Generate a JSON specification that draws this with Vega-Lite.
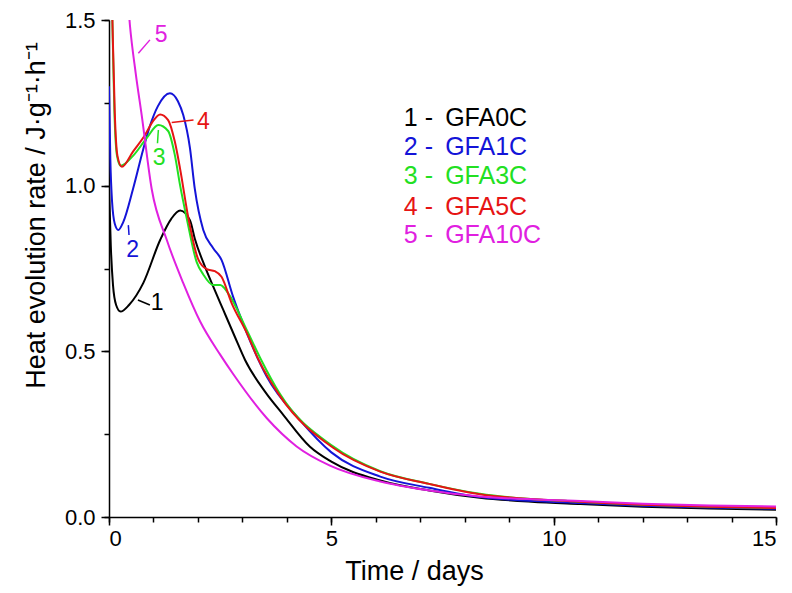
{
  "$schema": "https://vega.github.io/schema/vega-lite/v6.json",
  "width": 667,
  "height": 497,
  "autosize": {"type": "none"},
  "padding": {"left": 109, "top": 20, "right": 16, "bottom": 76},
  "background": "white",
  "config": {
    "view": {"stroke": null},
    "font": "Liberation Sans",
    "axis": {
      "grid": false,
      "domainColor": "black",
      "domainWidth": 1.5,
      "tickColor": "black",
      "tickWidth": 1.5,
      "labelColor": "black",
      "titleColor": "black",
      "labelFont": "Liberation Sans",
      "titleFont": "Liberation Sans",
      "labelFontSize": 22,
      "titleFontSize": 27,
      "titleFontWeight": "normal"
    }
  },
  "datasets": {
    "curves": [
      {"s": "1", "t": 0.0, "v": 1.0},
      {"s": "1", "t": 0.04, "v": 0.82},
      {"s": "1", "t": 0.09, "v": 0.7},
      {"s": "1", "t": 0.16, "v": 0.64},
      {"s": "1", "t": 0.26, "v": 0.62},
      {"s": "1", "t": 0.45, "v": 0.64},
      {"s": "1", "t": 0.77, "v": 0.706},
      {"s": "1", "t": 1.15, "v": 0.836},
      {"s": "1", "t": 1.4, "v": 0.9},
      {"s": "1", "t": 1.6, "v": 0.925},
      {"s": "1", "t": 1.82, "v": 0.896},
      {"s": "1", "t": 1.93, "v": 0.84},
      {"s": "1", "t": 2.16, "v": 0.755},
      {"s": "1", "t": 2.34, "v": 0.697},
      {"s": "1", "t": 2.57, "v": 0.625},
      {"s": "1", "t": 2.83, "v": 0.544},
      {"s": "1", "t": 3.06, "v": 0.474},
      {"s": "1", "t": 3.5, "v": 0.38},
      {"s": "1", "t": 3.91, "v": 0.31},
      {"s": "1", "t": 4.52, "v": 0.212},
      {"s": "1", "t": 5.0, "v": 0.167},
      {"s": "1", "t": 6.1, "v": 0.11},
      {"s": "1", "t": 7.2, "v": 0.08},
      {"s": "1", "t": 8.34, "v": 0.058},
      {"s": "1", "t": 9.5, "v": 0.046},
      {"s": "1", "t": 10.6, "v": 0.039},
      {"s": "1", "t": 12.0, "v": 0.031},
      {"s": "1", "t": 13.5, "v": 0.026},
      {"s": "1", "t": 15.0, "v": 0.022},
      {"s": "2", "t": 0.0, "v": 1.3},
      {"s": "2", "t": 0.03, "v": 1.08},
      {"s": "2", "t": 0.07, "v": 0.95},
      {"s": "2", "t": 0.13, "v": 0.885},
      {"s": "2", "t": 0.21, "v": 0.866},
      {"s": "2", "t": 0.32, "v": 0.89},
      {"s": "2", "t": 0.54, "v": 0.99},
      {"s": "2", "t": 0.77, "v": 1.11},
      {"s": "2", "t": 0.92, "v": 1.18},
      {"s": "2", "t": 1.1, "v": 1.24},
      {"s": "2", "t": 1.37, "v": 1.279},
      {"s": "2", "t": 1.55, "v": 1.255},
      {"s": "2", "t": 1.67, "v": 1.213},
      {"s": "2", "t": 1.82, "v": 1.114},
      {"s": "2", "t": 1.93, "v": 0.99},
      {"s": "2", "t": 2.12, "v": 0.866},
      {"s": "2", "t": 2.34, "v": 0.812},
      {"s": "2", "t": 2.53, "v": 0.776},
      {"s": "2", "t": 2.79, "v": 0.665},
      {"s": "2", "t": 3.1, "v": 0.555},
      {"s": "2", "t": 3.55, "v": 0.423},
      {"s": "2", "t": 4.29, "v": 0.293},
      {"s": "2", "t": 5.0, "v": 0.195},
      {"s": "2", "t": 6.1, "v": 0.122},
      {"s": "2", "t": 7.2, "v": 0.088},
      {"s": "2", "t": 8.34, "v": 0.06},
      {"s": "2", "t": 10.6, "v": 0.042},
      {"s": "2", "t": 12.0, "v": 0.034},
      {"s": "2", "t": 13.5, "v": 0.029},
      {"s": "2", "t": 15.0, "v": 0.025},
      {"s": "3", "t": 0.05, "v": 1.65},
      {"s": "3", "t": 0.08, "v": 1.47},
      {"s": "3", "t": 0.12, "v": 1.23},
      {"s": "3", "t": 0.18, "v": 1.09},
      {"s": "3", "t": 0.26, "v": 1.06},
      {"s": "3", "t": 0.54, "v": 1.09},
      {"s": "3", "t": 0.85, "v": 1.144},
      {"s": "3", "t": 1.11, "v": 1.183},
      {"s": "3", "t": 1.33, "v": 1.165},
      {"s": "3", "t": 1.48, "v": 1.093},
      {"s": "3", "t": 1.6, "v": 1.0},
      {"s": "3", "t": 1.75, "v": 0.9},
      {"s": "3", "t": 1.97, "v": 0.77},
      {"s": "3", "t": 2.12, "v": 0.732},
      {"s": "3", "t": 2.34, "v": 0.7},
      {"s": "3", "t": 2.5, "v": 0.7},
      {"s": "3", "t": 2.68, "v": 0.675},
      {"s": "3", "t": 3.1, "v": 0.564},
      {"s": "3", "t": 3.4, "v": 0.48},
      {"s": "3", "t": 3.85, "v": 0.37},
      {"s": "3", "t": 5.04, "v": 0.213},
      {"s": "3", "t": 6.1, "v": 0.138},
      {"s": "3", "t": 7.2, "v": 0.1},
      {"s": "3", "t": 8.34, "v": 0.07},
      {"s": "3", "t": 10.6, "v": 0.046},
      {"s": "3", "t": 12.0, "v": 0.037},
      {"s": "3", "t": 13.5, "v": 0.031},
      {"s": "3", "t": 15.0, "v": 0.027},
      {"s": "4", "t": 0.05, "v": 1.65},
      {"s": "4", "t": 0.08, "v": 1.48},
      {"s": "4", "t": 0.13, "v": 1.22},
      {"s": "4", "t": 0.19, "v": 1.09},
      {"s": "4", "t": 0.29, "v": 1.057},
      {"s": "4", "t": 0.54, "v": 1.103},
      {"s": "4", "t": 0.81, "v": 1.153},
      {"s": "4", "t": 0.99, "v": 1.195},
      {"s": "4", "t": 1.15, "v": 1.215},
      {"s": "4", "t": 1.33, "v": 1.198},
      {"s": "4", "t": 1.48, "v": 1.133},
      {"s": "4", "t": 1.6, "v": 1.05},
      {"s": "4", "t": 1.78, "v": 0.906},
      {"s": "4", "t": 2.0, "v": 0.78},
      {"s": "4", "t": 2.2, "v": 0.748},
      {"s": "4", "t": 2.38, "v": 0.742},
      {"s": "4", "t": 2.53, "v": 0.725},
      {"s": "4", "t": 2.76, "v": 0.645},
      {"s": "4", "t": 3.1, "v": 0.555},
      {"s": "4", "t": 3.35, "v": 0.478},
      {"s": "4", "t": 3.85, "v": 0.364},
      {"s": "4", "t": 5.04, "v": 0.209},
      {"s": "4", "t": 6.1, "v": 0.137},
      {"s": "4", "t": 7.2, "v": 0.1},
      {"s": "4", "t": 8.34, "v": 0.069},
      {"s": "4", "t": 10.6, "v": 0.046},
      {"s": "4", "t": 12.0, "v": 0.037},
      {"s": "4", "t": 13.5, "v": 0.031},
      {"s": "4", "t": 15.0, "v": 0.027},
      {"s": "5", "t": 0.4, "v": 1.6},
      {"s": "5", "t": 0.47, "v": 1.485},
      {"s": "5", "t": 0.6, "v": 1.34},
      {"s": "5", "t": 0.735, "v": 1.213},
      {"s": "5", "t": 0.96, "v": 0.99},
      {"s": "5", "t": 1.3, "v": 0.836},
      {"s": "5", "t": 1.67, "v": 0.706},
      {"s": "5", "t": 2.05, "v": 0.59},
      {"s": "5", "t": 2.5, "v": 0.49},
      {"s": "5", "t": 2.8, "v": 0.43},
      {"s": "5", "t": 3.55, "v": 0.298},
      {"s": "5", "t": 4.22, "v": 0.213},
      {"s": "5", "t": 4.97, "v": 0.155},
      {"s": "5", "t": 6.1, "v": 0.107},
      {"s": "5", "t": 7.2, "v": 0.08},
      {"s": "5", "t": 8.34, "v": 0.062},
      {"s": "5", "t": 10.6, "v": 0.048},
      {"s": "5", "t": 12.0, "v": 0.04},
      {"s": "5", "t": 13.5, "v": 0.035},
      {"s": "5", "t": 15.0, "v": 0.032}
    ],
    "labels": [
      {"s": "1", "t": 1.08, "v": 0.646, "txt": "1"},
      {"s": "2", "t": 0.53, "v": 0.806, "txt": "2"},
      {"s": "3", "t": 1.13, "v": 1.083, "txt": "3"},
      {"s": "4", "t": 2.12, "v": 1.193, "txt": "4"},
      {"s": "5", "t": 1.17, "v": 1.455, "txt": "5"}
    ],
    "leaders": [
      {"s": "1", "t": 0.65, "v": 0.655, "t2": 0.92, "v2": 0.64},
      {"s": "2", "t": 0.435, "v": 0.881, "t2": 0.45, "v2": 0.851},
      {"s": "3", "t": 1.11, "v": 1.168, "t2": 1.09, "v2": 1.128},
      {"s": "4", "t": 1.41, "v": 1.191, "t2": 1.9, "v2": 1.198},
      {"s": "5", "t": 0.66, "v": 1.4, "t2": 0.92, "v2": 1.44}
    ],
    "legend": [
      {"s": "1", "v": 1.203, "num": "1 -", "name": "GFA0C"},
      {"s": "2", "v": 1.118, "num": "2 -", "name": "GFA1C"},
      {"s": "3", "v": 1.028, "num": "3 -", "name": "GFA3C"},
      {"s": "4", "v": 0.937, "num": "4 -", "name": "GFA5C"},
      {"s": "5", "v": 0.851, "num": "5 -", "name": "GFA10C"}
    ]
  },
  "layer": [
    {
      "data": {"name": "curves"},
      "mark": {"type": "line", "clip": true, "interpolate": "monotone", "strokeWidth": 2},
      "encoding": {
        "x": {
          "field": "t", "type": "quantitative",
          "scale": {"domain": [0, 15], "nice": false, "zero": false},
          "axis": {"orient": "bottom", "values": [0, 5, 10, 15], "format": "d", "tickSize": 8, "labelPadding": 3, "title": "Time / days", "titlePadding": 9, "titleX": 305}
        },
        "y": {
          "field": "v", "type": "quantitative",
          "scale": {"domain": [0, 1.5], "nice": false, "zero": false},
          "axis": {"orient": "left", "values": [0, 0.5, 1.0, 1.5], "format": ".1f", "tickSize": 8, "labelPadding": 6, "title": "Heat evolution rate / J·g⁻¹·h⁻¹", "titlePadding": 14, "titleY": 195}
        },
        "color": {
          "field": "s", "type": "nominal",
          "scale": {"domain": ["1", "2", "3", "4", "5"], "range": ["#000000", "#1414d8", "#22e022", "#e61414", "#e020e0"]},
          "legend": null
        },
        "order": {"field": "t", "type": "quantitative"}
      }
    },
    {
      "data": {"name": "leaders"},
      "mark": {"type": "rule", "strokeWidth": 1.5},
      "encoding": {
        "x": {
          "field": "t", "type": "quantitative",
          "axis": {"orient": "bottom", "values": [0, 1, 2, 3, 4, 5, 6, 7, 8, 9, 10, 11, 12, 13, 14, 15], "labels": false, "domain": false, "tickSize": 5, "title": null}
        },
        "x2": {"field": "t2"},
        "y": {
          "field": "v", "type": "quantitative",
          "axis": {"orient": "left", "values": [0, 0.25, 0.5, 0.75, 1.0, 1.25, 1.5], "labels": false, "domain": false, "tickSize": 5, "title": null}
        },
        "y2": {"field": "v2"},
        "color": {"field": "s", "type": "nominal", "legend": null}
      }
    },
    {
      "data": {"name": "labels"},
      "mark": {"type": "text", "fontSize": 23, "align": "center", "baseline": "middle", "font": "Liberation Sans"},
      "encoding": {
        "x": {"field": "t", "type": "quantitative", "axis": null},
        "y": {"field": "v", "type": "quantitative", "axis": null},
        "text": {"field": "txt"},
        "color": {"field": "s", "type": "nominal", "legend": null}
      }
    },
    {
      "data": {"name": "legend"},
      "mark": {"type": "text", "fontSize": 25, "align": "left", "baseline": "middle", "font": "Liberation Sans"},
      "encoding": {
        "x": {"datum": 6.63, "type": "quantitative", "axis": null},
        "y": {"field": "v", "type": "quantitative", "axis": null},
        "text": {"field": "num"},
        "color": {"field": "s", "type": "nominal", "legend": null}
      }
    },
    {
      "data": {"name": "legend"},
      "mark": {"type": "text", "fontSize": 25, "align": "left", "baseline": "middle", "font": "Liberation Sans"},
      "encoding": {
        "x": {"datum": 7.56, "type": "quantitative", "axis": null},
        "y": {"field": "v", "type": "quantitative", "axis": null},
        "text": {"field": "name"},
        "color": {"field": "s", "type": "nominal", "legend": null}
      }
    }
  ],
  "resolve": {"axis": {"x": "independent", "y": "independent"}}
}
